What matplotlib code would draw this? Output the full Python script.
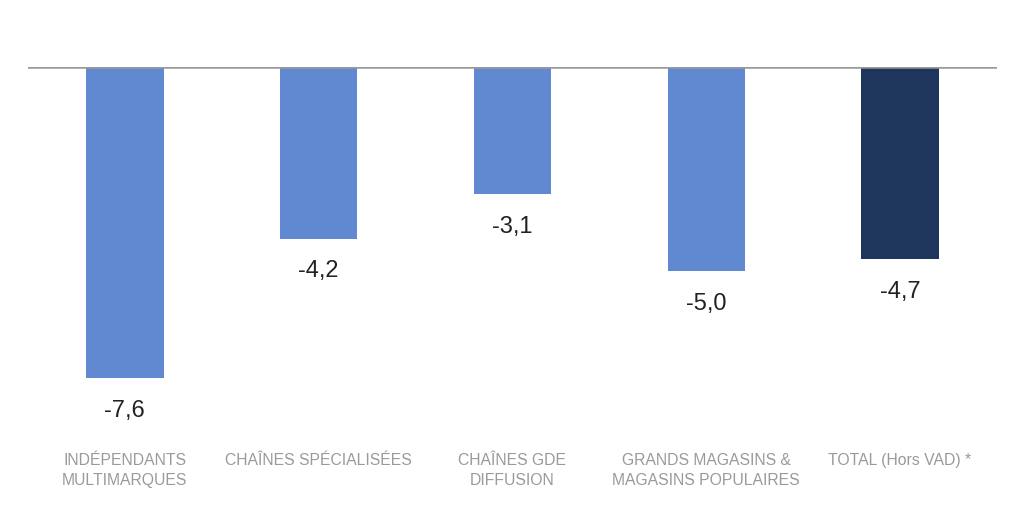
import matplotlib.pyplot as plt

categories = ["INDÉPENDANTS\nMULTIMARQUES", "CHAÎNES SPÉCIALISÉES", "CHAÎNES GDE\nDIFFUSION",
              "GRANDS MAGASINS &\nMAGASINS POPULAIRES", "TOTAL (Hors VAD) *"]
values = [-7.6, -4.2, -3.1, -5.0, -4.7]
colors = ["#6189d1", "#6189d1", "#6189d1", "#6189d1", "#1f365c"]

fig = plt.figure(figsize=(10.24, 5.29), dpi=100)
ax = fig.add_axes([0.0273, 0.1776, 0.9463, 0.6957])

x = range(len(values))
ax.bar(x, values, width=0.40, color=colors, zorder=2)
ax.axhline(0, color="#999999", linewidth=1.8, zorder=3)

for xi, v in zip(x, values):
    ax.text(xi, v - 0.8, f"{v:.1f}".replace(".", ","), ha="center", va="center",
            fontsize=17, color="#222222", family="Liberation Sans")

for xi, lab in zip(x, categories):
    ax.text(xi, -9.45, lab, ha="center", va="top", fontsize=11.3, color="#9a9a9a",
            family="Liberation Sans", linespacing=1.4)

ax.set_xlim(-0.5, 4.5)
ax.set_ylim(-9, 0)
ax.axis("off")

fig.savefig("out.png", dpi=100)
